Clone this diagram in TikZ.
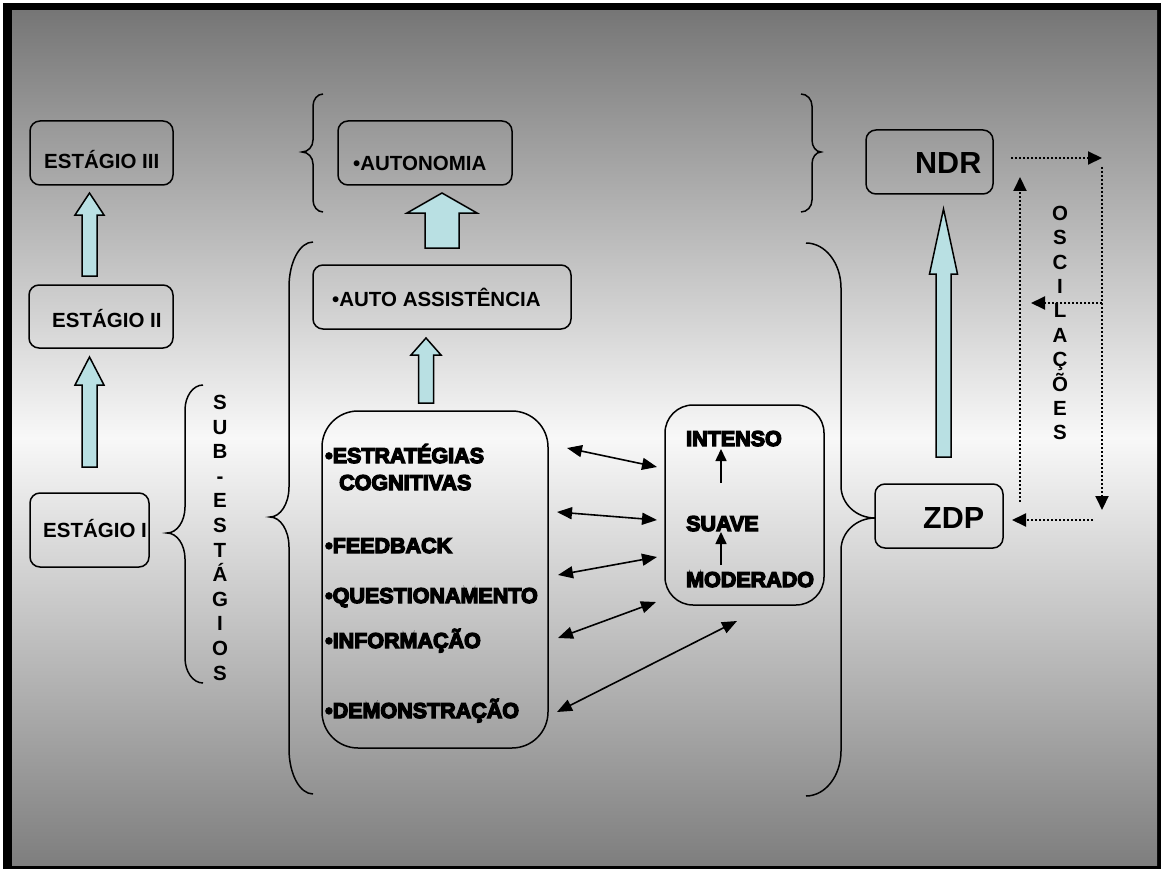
\documentclass[tikz,border=0pt]{standalone}
\usepackage{fontspec}
\setmainfont{Liberation Sans}
\newfontfamily\heavyfont[FakeBold=6]{Liberation Sans Bold}
\usetikzlibrary{arrows.meta}
\definecolor{arrowfill}{RGB}{185,224,227}
\definecolor{bgtop}{RGB}{118,118,118}
\definecolor{bgmid}{RGB}{248,248,248}
\definecolor{bgbot}{RGB}{126,126,126}
% block arrow: cx, bottom y, head-base y, tip y, shaft half width, head half width
\newcommand\blkarrow[6]{%
  \draw[blk] ({#1-#5},#2) -- ({#1-#5},#3) -- ({#1-#6},#3) -- (#1,#4) -- ({#1+#6},#3) -- ({#1+#5},#3) -- ({#1+#5},#2) -- cycle;}
% brace: end x, line x, tip x, top y, tip y, bottom y, end radius, mid radius
\newcommand\bracedraw[8]{%
  \draw[brc] (#1,#4) .. controls ({#2+0.448*(#1-#2)},#4) and (#2,{#4+0.448*#7}) .. (#2,{#4+#7})
    -- (#2,{#5-#8}) .. controls (#2,{#5-0.448*#8}) and ({#3+0.552*(#2-#3)},#5) .. (#3,#5)
    .. controls ({#3+0.552*(#2-#3)},#5) and (#2,{#5+0.448*#8}) .. (#2,{#5+#8})
    -- (#2,{#6-#7}) .. controls (#2,{#6-0.448*#7}) and ({#2+0.448*(#1-#2)},#6) .. (#1,#6);}
\tikzset{
  box/.style={draw=black, line width=1.5pt, rounded corners=10pt, inner sep=0pt},
  lbl/.style={font=\fontsize{20.5}{24}\selectfont\bfseries, inner sep=0pt, anchor=base west, text=black},
  hvy/.style={font=\fontsize{21.5}{24}\selectfont\heavyfont, inner sep=0pt, anchor=base west, text=black},
  bigl/.style={font=\fontsize{30.5}{34}\selectfont\bfseries, inner sep=0pt, anchor=base west, text=black},
  vl/.style={font=\fontsize{20.5}{24}\selectfont\bfseries, inner sep=0pt, anchor=base, text=black},
  blk/.style={draw=black, line width=1.5pt, fill=arrowfill, line join=miter},
  brc/.style={draw=black, line width=1.5pt},
  dbl/.style={line width=1.6pt, {Triangle[length=15pt,width=12pt]}-{Triangle[length=15pt,width=12pt]}},
  upar/.style={line width=1.6pt, -{Triangle[length=12pt,width=11pt]}},
  dots/.style={line width=2pt, dotted, -{Triangle[length=14pt,width=13pt]}},
}
\begin{document}
\begin{tikzpicture}[x=1pt,y=-1pt]
\useasboundingbox (0,0) rectangle (1161,869);
% frame and background
\fill[white] (0,0) rectangle (1161,869);
\fill[black] (3,3) rectangle (1161,869);
\shade[top color=bgtop, bottom color=bgbot, middle color=bgmid] (12,11) rectangle (1157,865);

% braces
\bracedraw{203}{185}{167}{385}{533}{683}{25}{26}
\bracedraw{313}{289}{270}{242}{517}{794}{45}{30}
\bracedraw{806}{841}{875}{243}{518}{796}{45}{32}
\bracedraw{323}{313}{302}{94}{152}{212}{12}{12}
\bracedraw{801}{812}{821}{94}{152}{212}{12}{12}

% boxes
\node[box, minimum width=143pt, minimum height=64pt] (e3) at (101.5,153) {};
\node[box, minimum width=144pt, minimum height=63pt] (e2) at (101,316.5) {};
\node[box, minimum width=119pt, minimum height=74pt] (e1) at (89.5,530) {};
\node[box, minimum width=174pt, minimum height=64pt] (aut) at (425,153) {};
\node[box, minimum width=258pt, minimum height=64pt] (asst) at (442,297) {};
\node[box, rounded corners=36pt, minimum width=226pt, minimum height=337pt] (lst) at (435,579.5) {};
\node[box, rounded corners=28pt, minimum width=159pt, minimum height=200pt] (lvl) at (744.5,505) {};
\node[box, minimum width=127pt, minimum height=64pt] (ndr) at (929.5,162) {};
\node[box, minimum width=128pt, minimum height=64pt] (zdp) at (939,516) {};

% block arrows
\blkarrow{89.5}{467}{385}{357}{7.5}{14.5}
\blkarrow{89.5}{276}{215}{193}{7.5}{14.5}
\blkarrow{442}{248}{213}{193}{17}{35}
\blkarrow{426}{403}{355}{338}{7.5}{15}
\blkarrow{943.5}{457}{274}{209}{7.5}{14}

% texts
\node[lbl] (t3) at (44,168) {ESTÁGIO III};
\node[lbl] (t2) at (52,327) {ESTÁGIO II};
\node[lbl] (t1) at (43,537) {ESTÁGIO I};
\node[lbl] (taut) at (353,171) {•AUTONOMIA};
\node[lbl] (tasst) at (332,306) {•AUTO ASSISTÊNCIA};
\node[bigl] (tndr) at (915,174) {NDR};
\node[bigl] (tzdp) at (923,528) {ZDP};

\node[hvy] (s1) at (325,463) {•ESTRATÉGIAS};
\node[hvy] (s1b) at (339,490) {COGNITIVAS};
\node[hvy] (s2) at (325,553) {•FEEDBACK};
\node[hvy] (s3) at (325,603) {•QUESTIONAMENTO};
\node[hvy] (s4) at (325,648) {•INFORMAÇÃO};
\node[hvy] (s5) at (325,718) {•DEMONSTRAÇÃO};

\node[hvy] (vint) at (686,446) {INTENSO};
\node[hvy] (vsua) at (686,531) {SUAVE};
\node[hvy] (vmod) at (686,587) {MODERADO};

% small arrows inside level box
\coordinate (ua1) at (721,483); \coordinate (ub1) at (721,449);
\coordinate (ua2) at (721,565); \coordinate (ub2) at (721,532);
\draw[upar] (ua1) -- (ub1);
\draw[upar] (ua2) -- (ub2);

% double arrows
\coordinate (l1) at (567,448); \coordinate (r1) at (657,467);
\coordinate (l2) at (557,512); \coordinate (r2) at (657,520);
\coordinate (l3) at (558,575); \coordinate (r3) at (657,557);
\coordinate (l4) at (558,638); \coordinate (r4) at (656,602);
\coordinate (l5) at (557,712); \coordinate (r5) at (737,621);
\draw[dbl] (l1) -- (r1);
\draw[dbl] (l2) -- (r2);
\draw[dbl] (l3) -- (r3);
\draw[dbl] (l4) -- (r4);
\draw[dbl] (l5) -- (r5);

% vertical words
\foreach \c [count=\i] in {S,U,B,-,E,S,T,Á,G,I,O,S}
  \node[vl] (sub\i) at (220,{409.5+(\i-1)*24.6}) {\c};
\foreach \c [count=\i] in {O,S,C,I,L,A,Ç,Õ,E,S}
  \node[vl] (osc\i) at (1060,{220.3+(\i-1)*24.4}) {\c};

% dotted oscillation arrows
\coordinate (d1a) at (1011,158); \coordinate (d1b) at (1102,158);
\coordinate (d2a) at (1102,167); \coordinate (d2b) at (1102,510);
\coordinate (d3a) at (1093,520); \coordinate (d3b) at (1012,520);
\coordinate (d4a) at (1020,502); \coordinate (d4b) at (1020,177);
\coordinate (d5a) at (1102,303); \coordinate (d5b) at (1031,303);
\draw[dots] (d1a) -- (d1b);
\draw[dots] (d2a) -- (d2b);
\draw[dots] (d3a) -- (d3b);
\draw[dots] (d4a) -- (d4b);
\draw[dots] (d5a) -- (d5b);
\end{tikzpicture}
\end{document}
